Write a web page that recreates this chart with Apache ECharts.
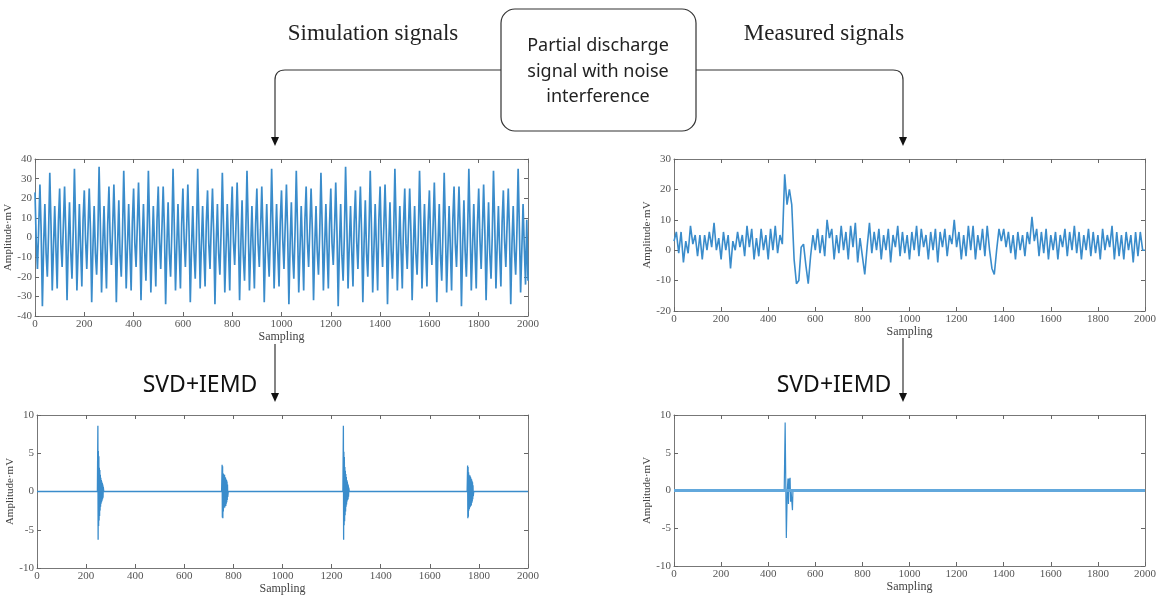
<!DOCTYPE html>
<html>
<head>
<meta charset="utf-8">
<title>SVD+IEMD denoising</title>
<script src="https://cdn.jsdelivr.net/npm/echarts@6/dist/echarts.min.js"></script>
<style>
  html, body { margin: 0; padding: 0; background: #fff; }
  #chart { width: 1159px; height: 596px; }
</style>
</head>
<body>
<div id="chart"></div>
<script>
// sample spacing of the two noisy traces
const SIM_STEP = 5;
const MEAS_STEP = 10;

// simulated PD signal with noise, one value every SIM_STEP samples
const simNoisy = [
  23, -2, -16, 5, 27, 3, -35, -4, 17, -8, -20, 2, 33, 6, -27, -5, 16, -6, -26, 8,
  25, -3, -15, 6, 26, 2, -32, -3, 18, -7, -21, 3, 35, 5, -27, -6, 17, -5, -25, 9,
  24, -1, -16, 4, 25, 4, -33, -5, 16, -8, -19, 1, 36, 7, -28, -4, 16, -7, -26, 7,
  26, -2, -14, 5, 27, 3, -33, -4, 19, -9, -20, 2, 34, 6, -26, -5, 17, -6, -27, 8,
  25, -3, -15, 6, 28, 2, -32, -3, 17, -7, -22, 3, 34, 5, -28, -6, 16, -5, -25, 9,
  26, -2, -16, 5, 26, 4, -34, -4, 18, -8, -20, 2, 35, 6, -27, -5, 17, -6, -26, 7,
  25, -1, -15, 4, 27, 3, -33, -5, 16, -7, -21, 1, 35, 7, -26, -4, 16, -7, -25, 8,
  24, -3, -16, 6, 25, 2, -34, -3, 17, -8, -19, 3, 33, 5, -28, -6, 17, -5, -27, 9,
  26, -2, -14, 5, 28, 4, -32, -4, 19, -9, -22, 2, 34, 6, -27, -5, 16, -6, -26, 7,
  25, -3, -15, 4, 26, 3, -33, -5, 17, -7, -20, 1, 35, 7, -26, -4, 17, -7, -25, 8,
  24, -1, -16, 6, 27, 2, -34, -3, 18, -8, -21, 3, 34, 5, -28, -6, 16, -5, -27, 9,
  26, -2, -15, 5, 25, 4, -32, -4, 16, -7, -19, 2, 33, 6, -27, -5, 17, -6, -26, 7,
  25, -3, -14, 4, 28, 3, -35, -5, 17, -9, -22, 1, 36, 7, -26, -4, 16, -7, -25, 8,
  24, -2, -16, 6, 26, 2, -33, -3, 19, -8, -20, 3, 34, 5, -28, -6, 17, -5, -27, 9,
  26, -1, -15, 5, 27, 4, -34, -4, 18, -7, -21, 2, 35, 6, -27, -5, 16, -6, -26, 7,
  25, -3, -16, 4, 25, 3, -32, -5, 16, -8, -19, 1, 34, 7, -26, -4, 17, -7, -25, 8,
  24, -2, -14, 6, 28, 2, -33, -3, 17, -9, -22, 3, 33, 5, -28, -6, 16, -5, -27, 9,
  26, -3, -15, 5, 26, 4, -35, -4, 19, -7, -20, 2, 35, 6, -27, -5, 17, -6, -26, 7,
  25, -1, -16, 4, 27, 3, -32, -5, 18, -8, -21, 1, 34, 7, -26, -4, 16, -7, -25, 8,
  24, -2, -15, 6, 25, 2, -34, -3, 16, -7, -19, 3, 35, 5, -28, -6, 17, -5, -24, 9,
  -22
];

// measured PD signal, one value every MEAS_STEP samples
const measNoisy = [
  3, 6, -1, 6, -4, 3, -1, 8, 2, 5,
  -2, 5, -3, 5, 0, 6, 1, 9, 0, 4,
  -3, 6, 0, 5, -6, 3, 0, 6, 1, 5,
  -2, 8, 1, 7, -3, 4, -2, 7, 0, 5,
  -3, 7, 0, 8, -1, 5, 2, 25, 15, 20,
  15, -3, -11, -10, 1, 2, -5, -11, -2, 5,
  0, 7, -1, 5, -2, 10, 4, 7, -3, 5,
  -1, 8, 0, 6, -3, 8, 1, 9, -4, 4,
  -2, -8, 1, 9, -1, 6, 0, 7, -3, 5,
  0, 7, -4, 5, 1, 8, -2, 6, -1, 5,
  -3, 6, 0, 8, -2, 7, 1, 5, -3, 6,
  0, 7, -4, 6, 1, 7, -2, 5, 2, 10,
  1, 6, -3, 5, -2, 8, 0, 8, -3, 5,
  0, 7, -2, 8, 0, -6, -8, 0, 7, 3,
  7, 1, 6, -1, 5, -3, 6, 0, 5, -2,
  6, 2, 11, 3, 7, -2, 6, -1, 7, -3,
  5, 0, 6, -3, 5, 1, 7, -2, 6, 0,
  8, -1, 6, -3, 5, 0, 7, -2, 6, -1,
  5, -3, 7, 0, 5, 1, 8, -3, 6, -2,
  5, -3, 6, 0, 5, -4, 6, -2, 6, 0,
  0
];

// denoised simulation signal: [sample, amplitude] around each pulse, zero elsewhere
const simClean = [
  [0, 0], [246, 0],
  [248, 8.6], [249, -6.3], [250, 5.3], [251, -4.5], [252, 4.6], [253, -3.8], [254, 3.1], [255, -3.2],
  [256, 2.8], [257, -2.5], [258, 2.2], [259, -2.0], [260, 1.8], [261, -1.6], [262, 1.5], [263, -1.4],
  [264, 1.3], [265, -1.2], [266, 1.1], [267, -1.0], [268, 0.9], [269, -0.8], [270, 0.6], [272, 0],
  [752, 0],
  [754, 3.5], [755, -3.4], [756, 3.3], [757, -3.5], [758, 2.4], [759, -2.6], [760, 2.3], [761, -2.2],
  [762, 2.1], [763, -2.0], [764, 2.2], [765, -2.1], [766, 1.9], [767, -1.8], [768, 1.8], [769, -1.9],
  [770, 1.6], [771, -1.6], [772, 1.5], [773, -1.4], [774, 1.3], [775, -1.1], [776, 0.9], [777, -0.7], [779, 0],
  [1246, 0],
  [1248, 8.6], [1249, -6.3], [1250, 5.2], [1251, -4.4], [1252, 4.5], [1253, -3.9], [1254, 3.2], [1255, -3.1],
  [1256, 2.7], [1257, -2.6], [1258, 2.3], [1259, -2.0], [1260, 1.9], [1261, -1.7], [1262, 1.5], [1263, -1.3],
  [1264, 1.3], [1265, -1.1], [1266, 1.0], [1267, -1.0], [1268, 0.8], [1269, -0.7], [1270, 0.5], [1272, 0],
  [1752, 0],
  [1754, 3.4], [1755, -3.5], [1756, 3.2], [1757, -3.3], [1758, 2.5], [1759, -2.5], [1760, 2.2], [1761, -2.3],
  [1762, 2.0], [1763, -2.1], [1764, 2.1], [1765, -2.0], [1766, 1.9], [1767, -1.9], [1768, 1.7], [1769, -1.8],
  [1770, 1.6], [1771, -1.5], [1772, 1.4], [1773, -1.3], [1774, 1.2], [1775, -1.0], [1776, 0.8], [1777, -0.6], [1779, 0],
  [2000, 0]
];

// denoised measured signal
const measClean = [
  [0, 0], [468, 0], [472, 9.0], [477, -6.3], [481, 0], [484, 1.6], [486, -1.8], [488, 1.6],
  [490, 0], [493, 1.7], [495, -1.5], [497, 0], [500, -0.2], [503, -2.6], [505, 0], [2000, 0]
];

const xTicks = {min: 0, max: 2000, interval: 200};
const yRanges = [
  {min: -40, max: 40, interval: 10},
  {min: -20, max: 30, interval: 10},
  {min: -10, max: 10, interval: 5},
  {min: -10, max: 10, interval: 5}
];

const LINE = '#3a8ccb';
const SERIF = 'Liberation Serif';

const grids = [
  {left: 35, top: 159, width: 493, height: 157},
  {left: 674, top: 159, width: 471, height: 152},
  {left: 37, top: 415, width: 491, height: 153},
  {left: 674, top: 415, width: 471, height: 151}
];
const yNameGaps = [16, 17, 13, 17];

const tickStyle = {inside: true, length: 4, lineStyle: {color: '#666'}};
const lineStyle = {lineStyle: {color: '#777', width: 1}};
const plain = v => String(v);

const xAxes = [];
const yAxes = [];
grids.forEach((g, i) => {
  xAxes.push({
    gridIndex: i, type: 'value', position: 'bottom', ...xTicks,
    name: 'Sampling', nameLocation: 'middle', nameGap: 15,
    nameTextStyle: {fontFamily: SERIF, fontSize: 12, color: '#444'},
    axisLine: {onZero: false, ...lineStyle},
    axisTick: tickStyle,
    axisLabel: {fontFamily: SERIF, fontSize: 11, color: '#555', margin: 3, formatter: plain},
    splitLine: {show: false}
  });
  xAxes.push({
    gridIndex: i, type: 'value', position: 'top', ...xTicks,
    axisLine: {onZero: false, ...lineStyle},
    axisTick: tickStyle,
    axisLabel: {show: false},
    splitLine: {show: false}
  });
  yAxes.push({
    gridIndex: i, type: 'value', position: 'left', ...yRanges[i],
    name: 'Amplitude·mV', nameLocation: 'middle', nameGap: yNameGaps[i],
    nameTextStyle: {fontFamily: SERIF, fontSize: 11, color: '#444'},
    axisLine: {show: true, onZero: false, ...lineStyle},
    axisTick: tickStyle,
    axisLabel: {fontFamily: SERIF, fontSize: 11, color: '#555', margin: 3, formatter: plain},
    splitLine: {show: false}
  });
  yAxes.push({
    gridIndex: i, type: 'value', position: 'right', ...yRanges[i],
    axisLine: {show: true, onZero: false, ...lineStyle},
    axisTick: tickStyle,
    axisLabel: {show: false},
    splitLine: {show: false}
  });
});

function lineSeries(idx, data, width, extra) {
  return Object.assign({
    type: 'line', xAxisIndex: idx * 2, yAxisIndex: idx * 2,
    data: data, showSymbol: false, silent: true, animation: false,
    lineStyle: {color: LINE, width: width}
  }, extra || {});
}

// thick light zero line seen under the denoised measured trace
const zeroLine = {
  markLine: {
    silent: true, symbol: 'none', label: {show: false},
    lineStyle: {color: '#62a8dc', width: 3, type: 'solid'},
    data: [{yAxis: 0}]
  }
};

const stroke = {stroke: '#333', lineWidth: 1.2, fill: null};
const boxText = (txt, y) => ({
  type: 'text', x: 598, y: y,
  style: {text: txt, font: '18px "Noto Sans"', fill: '#222', align: 'center', verticalAlign: 'middle'}
});

const chart = echarts.init(document.getElementById('chart'));
chart.setOption({
  backgroundColor: '#fff',
  animation: false,
  grid: grids,
  xAxis: xAxes,
  yAxis: yAxes,
  series: [
    lineSeries(0, simNoisy.map((v, i) => [i * SIM_STEP, v]), 1.7),
    lineSeries(1, measNoisy.map((v, i) => [i * MEAS_STEP, v]), 1.6),
    lineSeries(2, simClean, 1.3),
    lineSeries(3, measClean, 1.2, zeroLine)
  ],
  graphic: [
    {type: 'text', x: 373, y: 34, style: {text: 'Simulation signals', font: '23px "Liberation Serif"', fill: '#222', align: 'center', verticalAlign: 'middle'}},
    {type: 'text', x: 824, y: 34, style: {text: 'Measured signals', font: '23px "Liberation Serif"', fill: '#222', align: 'center', verticalAlign: 'middle'}},
    {type: 'rect', shape: {x: 501, y: 9, width: 195, height: 122, r: 14}, style: {fill: '#fff', stroke: '#333', lineWidth: 1.2}},
    boxText('Partial discharge', 46),
    boxText('signal with noise', 72),
    boxText('interference', 97),
    // connector to the simulation branch
    {type: 'line', shape: {x1: 501, y1: 70, x2: 285, y2: 70}, style: stroke},
    {type: 'bezierCurve', shape: {x1: 285, y1: 70, cpx1: 275, cpy1: 70, x2: 275, y2: 80}, style: stroke},
    {type: 'line', shape: {x1: 275, y1: 80, x2: 275, y2: 138}, style: stroke},
    {type: 'polygon', shape: {points: [[271, 137], [279, 137], [275, 146]]}, style: {fill: '#111'}},
    // connector to the measured branch
    {type: 'line', shape: {x1: 696, y1: 70, x2: 893, y2: 70}, style: stroke},
    {type: 'bezierCurve', shape: {x1: 893, y1: 70, cpx1: 903, cpy1: 70, x2: 903, y2: 80}, style: stroke},
    {type: 'line', shape: {x1: 903, y1: 80, x2: 903, y2: 138}, style: stroke},
    {type: 'polygon', shape: {points: [[899, 137], [907, 137], [903, 146]]}, style: {fill: '#111'}},
    // SVD+IEMD arrows
    {type: 'line', shape: {x1: 275, y1: 344, x2: 275, y2: 394}, style: stroke},
    {type: 'polygon', shape: {points: [[271, 393], [279, 393], [275, 402]]}, style: {fill: '#111'}},
    {type: 'line', shape: {x1: 903, y1: 338, x2: 903, y2: 394}, style: stroke},
    {type: 'polygon', shape: {points: [[899, 393], [907, 393], [903, 402]]}, style: {fill: '#111'}},
    {type: 'text', x: 200, y: 385, style: {text: 'SVD+IEMD', font: '23px "Noto Sans"', fill: '#111', align: 'center', verticalAlign: 'middle'}},
    {type: 'text', x: 834, y: 385, style: {text: 'SVD+IEMD', font: '23px "Noto Sans"', fill: '#111', align: 'center', verticalAlign: 'middle'}}
  ]
});
</script>
</body>
</html>
